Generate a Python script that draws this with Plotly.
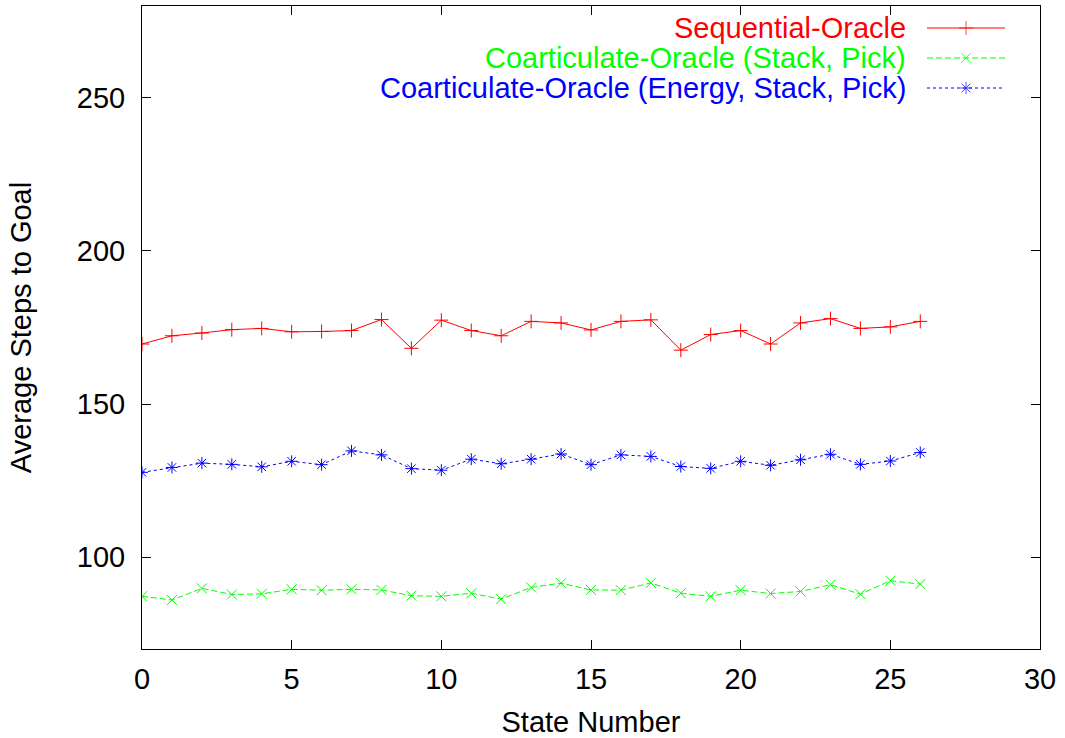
import plotly.graph_objects as go

# State indices 0..26
states = list(range(27))

sequential_oracle = [169.6, 172.3, 173.2, 174.3, 174.7, 173.6, 173.7, 174.0, 177.6, 168.2,
                     177.4, 174.0, 172.3, 177.0, 176.5, 174.2, 177.0, 177.5, 167.6, 172.7,
                     174.0, 169.6, 176.5, 177.9, 174.7, 175.2, 177.0]

coart_stack_pick = [87.2, 86.0, 89.8, 87.8, 88.0, 89.5, 89.2, 89.5, 89.3, 87.4,
                    87.2, 88.2, 86.3, 90.1, 91.5, 89.3, 89.2, 91.6, 88.2, 87.2,
                    89.2, 88.1, 88.8, 91.0, 87.9, 92.3, 91.2]

coart_energy_stack_pick = [127.7, 129.3, 130.7, 130.3, 129.5, 131.3, 130.2, 134.7, 133.4, 128.9,
                           128.4, 132.0, 130.5, 132.0, 133.7, 130.2, 133.4, 132.9, 129.6, 129.0,
                           131.3, 130.0, 131.8, 133.6, 130.3, 131.4, 134.2]

series_names = ["Sequential-Oracle",
                "Coarticulate-Oracle (Stack, Pick)",
                "Coarticulate-Oracle (Energy, Stack, Pick)"]
series_values = [sequential_oracle, coart_stack_pick, coart_energy_stack_pick]
series_colors = ["#ff0000", "#00ff00", "#0000ff"]
series_dash = ["solid", "6px,3px", "3px,3px"]
series_symbols = ["cross-thin", "x-thin", "asterisk"]

x_ticks = [0, 5, 10, 15, 20, 25, 30]
y_ticks = [100, 150, 200, 250]

FONT = "Liberation Sans, Arial, Helvetica, sans-serif"
FS = 29

# figure geometry (pixels)
W, H = 1065, 738
ML, MR, MT, MB = 142, 25, 6, 89
PW, PH = W - ML - MR, H - MT - MB

fig = go.Figure()

for name, vals, col, dash, sym in zip(series_names, series_values, series_colors,
                                      series_dash, series_symbols):
    fig.add_trace(go.Scatter(
        x=states, y=vals, mode="lines+markers", name=name,
        line=dict(color=col, width=1, dash=dash),
        marker=dict(symbol=sym, size=10, color=col, line=dict(color=col, width=1)),
        showlegend=False,
    ))

# key: right-aligned labels with line samples to their right, in pixel-based overlay axes
def px_x(px):
    return (px - ML) / PW

def px_y(py):
    return (H - MB - py) / PH

key_rows = [28, 58, 88]
text_right = 908
sample_l, sample_r = 927, 1005
for name, col, dash, sym, ry in zip(series_names, series_colors, series_dash,
                                    series_symbols, key_rows):
    fig.add_trace(go.Scatter(
        x=[px_x(sample_l), px_x((sample_l + sample_r) / 2), px_x(sample_r)],
        y=[px_y(ry)] * 3, mode="lines+markers",
        xaxis="x2", yaxis="y2", showlegend=False, hoverinfo="skip",
        line=dict(color=col, width=1, dash=dash),
        marker=dict(symbol=sym, size=[0, 10, 0], color=col, line=dict(color=col, width=1)),
    ))
    fig.add_annotation(
        x=px_x(text_right), y=px_y(ry), xref="x2", yref="y2",
        text=name, showarrow=False, xanchor="right", yanchor="middle",
        font=dict(family=FONT, size=FS, color=col),
    )

axis_common = dict(
    showline=True, linecolor="black", linewidth=1, mirror="ticks",
    ticks="inside", ticklen=9, tickwidth=1, tickcolor="black",
    showgrid=False, zeroline=False,
    tickfont=dict(family=FONT, size=FS, color="black"),
)

fig.update_layout(
    width=W, height=H,
    margin=dict(l=ML, r=MR, t=MT, b=MB, autoexpand=False),
    plot_bgcolor="white", paper_bgcolor="white",
    font=dict(family=FONT, size=FS, color="black"),
    xaxis=dict(range=[0, 30], tickvals=x_ticks,
               title=dict(text="State Number", font=dict(family=FONT, size=FS), standoff=20),
               ticklabelstandoff=4, **axis_common),
    yaxis=dict(range=[70, 280], tickvals=y_ticks,
               title=dict(text="Average Steps to Goal", font=dict(family=FONT, size=FS), standoff=36),
               ticklabelstandoff=10, **axis_common),
    xaxis2=dict(overlaying="x", range=[0, 1], visible=False, fixedrange=True),
    yaxis2=dict(overlaying="y", range=[0, 1], visible=False, fixedrange=True),
    showlegend=False,
)

fig.write_html("out.html")
